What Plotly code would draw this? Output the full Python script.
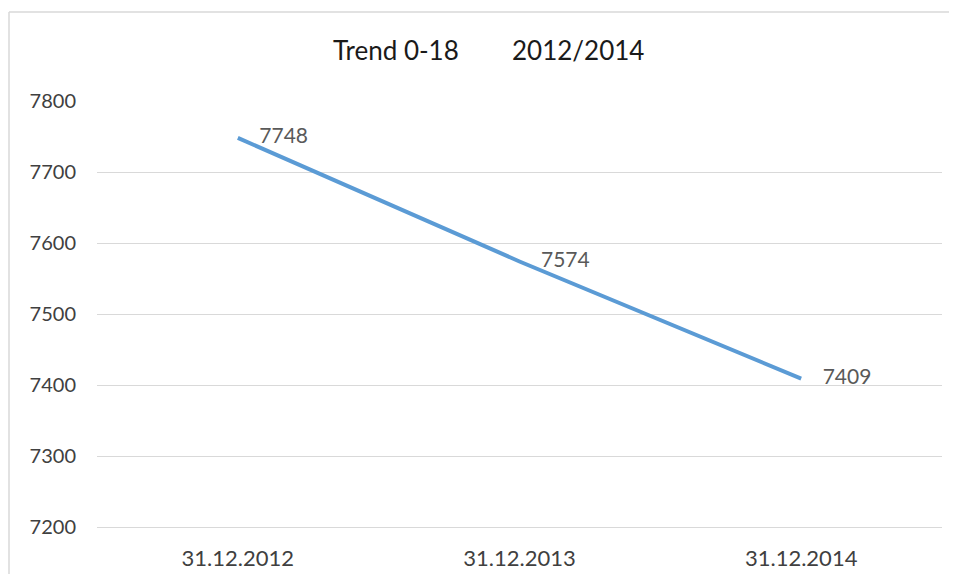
import plotly.graph_objects as go

categories = ["31.12.2012", "31.12.2013", "31.12.2014"]
values = [7748, 7574, 7409]
y_ticks = [7200, 7300, 7400, 7500, 7600, 7700, 7800]

# page body has an 8px margin on every side; size the figure so the page
# does not overflow the 957x582 window, and work in screen pixels
OFF = 8
W, H = 957 - 2 * OFF, 582 - 2 * OFF
plot_left, plot_right, plot_top, plot_bottom = 97, 942, 101, 527
L = plot_left - OFF
T = plot_top - OFF
R = W - (plot_right - OFF)
B = H - (plot_bottom - OFF)
pw = plot_right - plot_left
ph = plot_bottom - plot_top

def px_x(p):
    return (p - plot_left) / pw

def px_y(p):
    return (plot_bottom - p) / ph

FONT = "Lato, 'Open Sans', sans-serif"
PAD = "\u00a0" * 4
BORDER = dict(color="#d9d9d9", width=1.5)

fig = go.Figure()
fig.add_trace(go.Scatter(
    x=categories, y=values, mode="lines+text",
    line=dict(color="#5B9BD5", width=4),
    text=[PAD + str(v) for v in values], textposition="middle right",
    textfont=dict(family=FONT, size=21, color="#595959"),
    cliponaxis=False, hoverinfo="skip",
))

fig.update_layout(
    width=W, height=H,
    margin=dict(l=L, r=R, t=T, b=B, autoexpand=False),
    paper_bgcolor="white", plot_bgcolor="white",
    showlegend=False,
    font=dict(family=FONT, size=20, color="#404040"),
    xaxis=dict(type="category", range=[-0.5, 2.5], showgrid=False, automargin=False,
               showline=True, linecolor="#d9d9d9", linewidth=1,
               zeroline=False, ticks="", ticklabelstandoff=12,
               tickfont=dict(size=22, color="#404040")),
    yaxis=dict(range=[7200, 7800], tickvals=y_ticks, showgrid=True, gridcolor="#d9d9d9",
               gridwidth=1, zeroline=False, showline=False, ticks="", automargin=False,
               ticklabelstandoff=20, tickfont=dict(size=20, color="#404040")),
    shapes=[
        dict(type="line", xref="paper", yref="paper",
             x0=px_x(9), x1=px_x(9), y0=px_y(700), y1=px_y(12), line=BORDER, layer="below"),
        dict(type="line", xref="paper", yref="paper",
             x0=px_x(9), x1=px_x(1100), y0=px_y(12), y1=px_y(12), line=BORDER, layer="below"),
    ],
    annotations=[dict(xref="paper", yref="paper", x=px_x(488), y=px_y(50),
                      text="Trend 0-18" + "\u00a0" * 8 + "2012/2014", showarrow=False,
                      xanchor="center", yanchor="middle",
                      font=dict(family=FONT, size=26, color="#1a1a1a"))],
)

fig.write_html("out.html")
